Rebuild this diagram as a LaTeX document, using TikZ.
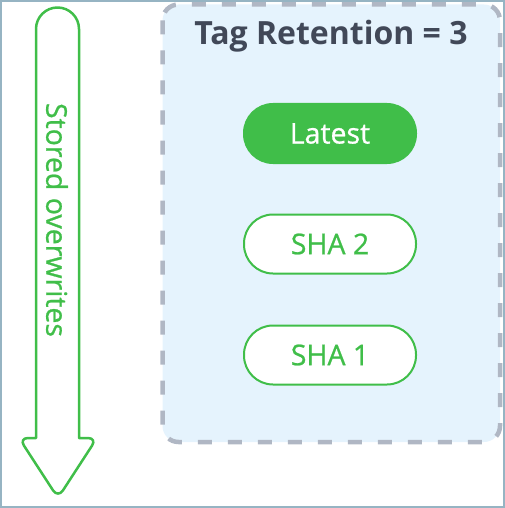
\documentclass[tikz,border=0pt]{standalone}
\usepackage{fontspec}
\setmainfont{Open Sans}
\newfontfamily\medfont[FakeBold=0.8]{Open Sans}
\definecolor{storegreen}{RGB}{64,190,73}
\definecolor{retshade}{RGB}{229,243,253}
\definecolor{retdash}{RGB}{176,183,196}
\definecolor{retink}{RGB}{65,72,88}
\definecolor{framegrey}{RGB}{150,180,195}
\begin{document}
\begin{tikzpicture}[x=1pt,y=1pt,
      tagpill/.style={draw=storegreen,line width=2pt,fill=white,text=storegreen,
        rounded corners=29pt,minimum width=172pt,minimum height=59pt,
        font=\medfont\fontsize{28.5}{34}\selectfont},
      latestpill/.style={tagpill,fill=storegreen,text=white}]
      \useasboundingbox (0,0) rectangle (505,-508);
      \draw[framegrey,line width=2pt] (1,-1) rectangle (504,-507);
      % retention box
      \draw[retdash,fill=retshade,line width=4.5pt,dash pattern=on 14pt off 16pt,
        rounded corners=16pt] (162.5,-4.5) rectangle (500,-442);
      \node[text=retink,font=\bfseries\fontsize{32}{38}\selectfont] (title)
        at (331,-36) {Tag Retention = 3};
      \node[latestpill] (latest) at (330,-133.5) {Latest};
      \node[tagpill] (sha2) at (330,-244) {SHA 2};
      \node[tagpill] (sha1) at (330,-355) {SHA 1};
      % arrow
      \draw[storegreen,line width=2.5pt,line join=round]
        (36,-438) -- (36,-29) arc[start angle=180,end angle=0,radius=21.5]
        -- (79,-438) [rounded corners=9pt] -- (97,-438) -- (58,-498)
        -- (19,-438) [sharp corners] -- (36,-438) -- cycle;
      \node[text=storegreen,rotate=-90,font=\medfont\fontsize{28.5}{34}\selectfont] (stored)
        at (57,-220) {Stored overwrites};
    \end{tikzpicture}
\end{document}
